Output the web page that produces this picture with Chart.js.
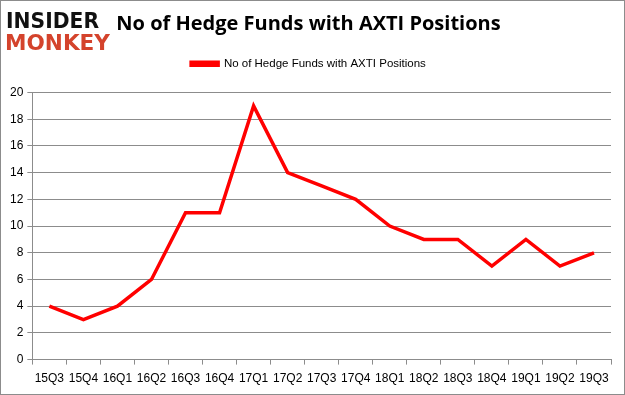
<!DOCTYPE html>
<html lang="en">
<head>
  <meta charset="utf-8">
  <title>No of Hedge Funds with AXTI Positions</title>
  <script src="https://cdn.jsdelivr.net/npm/chart.js@4.4.0/dist/chart.umd.min.js"></script>
  <style>
    html, body { margin: 0; padding: 0; background: #fff; }
    #wrap { width: 625px; height: 395px; position: relative; }
  </style>
</head>
<body>
  <div id="wrap"><canvas id="chart"></canvas></div>
  <script>
    const quarters = ["15Q3", "15Q4", "16Q1", "16Q2", "16Q3", "16Q4", "17Q1", "17Q2", "17Q3",
      "17Q4", "18Q1", "18Q2", "18Q3", "18Q4", "19Q1", "19Q2", "19Q3"];
    const hedgeFunds = [4, 3, 4, 6, 11, 11, 19, 14, 13, 12, 10, 9, 9, 7, 9, 7, 8];
    const seriesName = "No of Hedge Funds with AXTI Positions";

    // extra gap under the legend
    const legendGap = {
      id: "legendGap",
      beforeInit(chart) {
        const fit = chart.legend.fit;
        chart.legend.fit = function () {
          fit.bind(chart.legend)();
          this.height += 13;
        };
      }
    };

    // logo + outer frame
    const decorations = {
      id: "decorations",
      afterDraw(chart) {
        const c = chart.ctx;
        c.save();
        c.strokeStyle = "#8c8c8c";
        c.lineWidth = 1;
        c.strokeRect(0.5, 0.5, chart.width - 1, chart.height - 1);
        c.textBaseline = "alphabetic";
        c.font = "bold 21px 'DejaVu Sans'";
        c.fillStyle = "#111";
        c.save();
        c.translate(6, 28);
        c.scale(93 / c.measureText("INSIDER").width, 1);
        c.fillText("INSIDER", 0, 0);
        c.restore();
        c.fillStyle = "#d4432c";
        c.save();
        c.translate(5, 50);
        c.scale(105 / c.measureText("MONKEY").width, 1);
        c.fillText("MONKEY", 0, 0);
        c.restore();
        c.restore();
      }
    };

    new Chart(document.getElementById("chart"), {
      type: "line",
      data: {
        labels: quarters,
        datasets: [{
          label: seriesName,
          data: hedgeFunds,
          borderColor: "#ff0000",
          backgroundColor: "#ff0000",
          borderWidth: 3.5,
          pointRadius: 0,
          tension: 0
        }]
      },
      options: {
        responsive: true,
        maintainAspectRatio: false,
        animation: false,
        layout: { padding: { left: 6, right: 14, top: 8, bottom: 2 } },
        plugins: {
          title: {
            display: true,
            text: "No of Hedge Funds with AXTI Positions",
            color: "#000",
            font: { family: "'Open Sans', 'Liberation Sans', sans-serif", size: 20, weight: "bold" },
            padding: { top: 4, bottom: 12 }
          },
          legend: {
            labels: {
              color: "#000",
              boxWidth: 27,
              boxHeight: 3,
              font: { family: "'Liberation Sans', sans-serif", size: 11.5 }
            }
          },
          tooltip: { enabled: false }
        },
        scales: {
          x: {
            offset: true,
            grid: { display: true, drawOnChartArea: false, offset: true, color: "#8c8c8c", tickLength: 5 },
            border: { color: "#8c8c8c" },
            ticks: { color: "#000", maxRotation: 0, autoSkip: false, padding: 7,
              font: { family: "'Liberation Sans', sans-serif", size: 12 } }
          },
          y: {
            min: 0,
            max: 20,
            ticks: { stepSize: 2, color: "#000", padding: 4,
              font: { family: "'Liberation Sans', sans-serif", size: 12 } },
            grid: { color: "#8c8c8c", tickLength: 5 },
            border: { color: "#8c8c8c" }
          }
        }
      },
      plugins: [legendGap, decorations]
    });
  </script>
</body>
</html>
